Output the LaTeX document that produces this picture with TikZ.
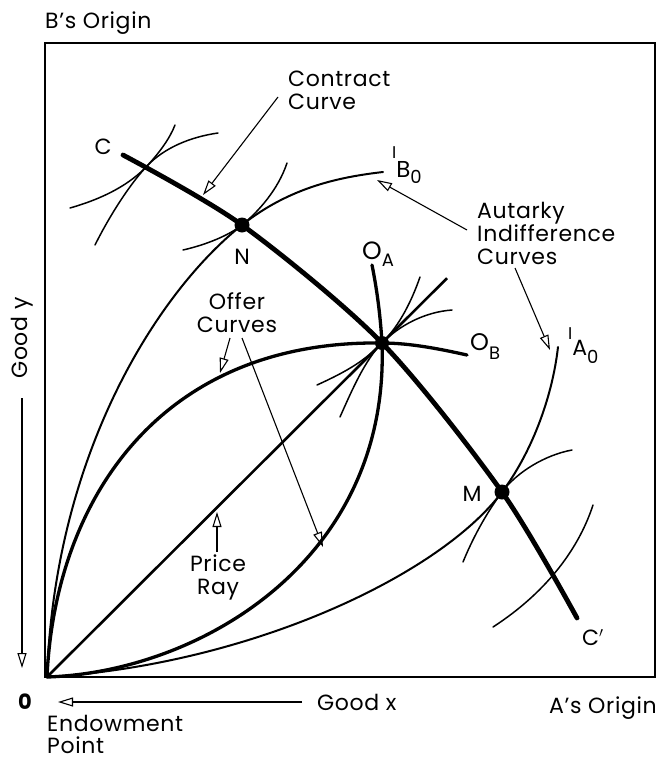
\documentclass[tikz,border=0pt]{standalone}
\usepackage{fontspec}
\setmainfont{Poppins}
\usetikzlibrary{arrows.meta,calc}
\begin{document}
\begin{tikzpicture}[x=1pt,y=-1pt,
  lbl/.style={font=\fontsize{22}{23}\selectfont\addfontfeatures{LetterSpace=3}, inner sep=0pt},
  ptlbl/.style={font=\fontsize{22}{22}\selectfont, inner sep=0pt},
  contract/.style={line width=4.8pt, line cap=round},
  offer/.style={line width=3.3pt, line cap=round},
  autarky/.style={line width=2pt, line cap=round},
  tangent/.style={line width=1.5pt, line cap=round},
  ray/.style={line width=2.6pt},
  pointer/.style={line width=1.1pt, -{Triangle[open, length=15pt, width=9pt, line width=1.1pt]}},
  dot/.style={circle, fill, inner sep=0pt, minimum size=15pt},
]
\useasboundingbox (0,0) rectangle (658,763);

% key points
\coordinate (O) at (47,677);
\coordinate (E) at (382,343);
\coordinate (N) at (242,225);
\coordinate (M) at (502,492);
\coordinate (K) at (147,166);

% box
\draw[line width=1.5pt] (45,43) rectangle (655,677);

% autarky indifference curves
\draw[autarky] (O) .. controls (55,450) and (160,290) .. (N) .. controls (290,187) and (340,177) .. (383,172);
\draw[autarky] (O) .. controls (250,665) and (440,575) .. (M) .. controls (530,455) and (552,400) .. (558,347);

% offer curves
\draw[offer] (O) .. controls (55,500) and (160,340) .. (E) .. controls (410,343) and (440,349) .. (467,355);
\draw[offer] (O) .. controls (200,672) and (390,560) .. (E) .. controls (380,310) and (376,285) .. (372,265);

% price ray
\draw[ray] (O) -- ($(O)!1.194!(E)$);

% tangent indifference curves
\draw[tangent] (70,208) .. controls (105,198) and (130,184) .. (K) .. controls (160,152) and (170,138) .. (175,125);
\draw[tangent] (95,245) .. controls (110,215) and (130,184) .. (K) .. controls (164,148) and (190,137) .. (218,133);
\draw[tangent] (183,250) .. controls (205,245) and (228,236) .. (N) .. controls (258,212) and (278,190) .. (287,163);
\draw[tangent] (317,385) .. controls (350,370) and (365,360) .. (E) .. controls (400,325) and (412,300) .. (420,277);
\draw[tangent] (340,417) .. controls (352,390) and (365,360) .. (E) .. controls (400,325) and (425,312) .. (452,310);
\draw[tangent] (463,562) .. controls (472,540) and (485,515) .. (M) .. controls (517,472) and (545,455) .. (572,450);
\draw[tangent] (593,505) .. controls (580,545) and (550,590) .. (493,627);

% contract curve
\draw[contract] plot[smooth] coordinates {(123,155) (N) (E) (M) (577,618)};

% points
\node[dot] (dN) at (N) {};
\node[dot, minimum size=14pt] (dE) at (E) {};
\node[dot] (dM) at (M) {};

% point labels
\node[ptlbl] (lC) at (103,147) {C};
\node[ptlbl] (lN) at (242,257) {N};
\node[ptlbl] (lM) at (472,494) {M};
\node[ptlbl, anchor=base west] (lCp) at (582,645) {C$'$};
\node[ptlbl, anchor=base west, font=\fontsize{25}{25}\selectfont] (lOA) at (362,259) {O\raisebox{-7pt}{\fontsize{18}{18}\selectfont A}};
\node[ptlbl, anchor=base west, font=\fontsize{24}{24}\selectfont] (lOB) at (470,350) {O\raisebox{-9pt}{\fontsize{18}{18}\selectfont B}};
\node[ptlbl, anchor=base west, font=\fontsize{23}{23}\selectfont] (lIB) at (392,177) {\raisebox{19pt}{\fontsize{17}{17}\selectfont I}B\raisebox{-6pt}{\fontsize{18}{18}\selectfont 0}};
\node[ptlbl, anchor=base west, font=\fontsize{22}{22}\selectfont] (lIA) at (568,355) {\raisebox{16pt}{\fontsize{17}{17}\selectfont I}A\raisebox{-8pt}{\fontsize{18}{18}\selectfont 0}};

% text labels
\node[lbl, anchor=base west] (bo) at (45,28) {B’s Origin};
\node[lbl, anchor=base east] (ao) at (657,713) {A’s Origin};
\node[lbl, align=left, anchor=north west] (cc) at (288,71) {Contract\\Curve};
\node[lbl, align=left, anchor=north west] (aic) at (477,202) {Autarky\\Indifference\\Curves};
\node[lbl, align=center, anchor=north] (oc) at (237,292) {Offer\\Curves};
\node[lbl, align=center, anchor=north] (pr) at (218,555) {Price\\Ray};
\node[lbl, align=left, anchor=base west] (ep) at (47,731) {Endowment};
\node[lbl, align=left, anchor=base west] (ep2) at (47,753) {Point};
\node[lbl, anchor=base west] (gx) at (317,710) {Good x};
\node[lbl, rotate=90] (gy) at (22,338) {Good y};
\node[ptlbl, font=\fontsize{21}{21}\selectfont\bfseries] (zero) at (25,702) {0};

% pointer arrows
\coordinate (ccS) at (278,97);   \coordinate (ccT) at (203,195);
\coordinate (aS1) at (467,230);  \coordinate (aT1) at (377,180);
\coordinate (aS2) at (515,268);  \coordinate (aT2) at (550,350);
\coordinate (oS1) at (230,338);  \coordinate (oT1) at (220,373);
\coordinate (oS2) at (242,338);  \coordinate (oT2) at (323,547);
\coordinate (pS) at (217,552);   \coordinate (pT) at (217,512);
\coordinate (gyS) at (22,398);   \coordinate (gyT) at (22,668);
\coordinate (gxS) at (302,702);  \coordinate (gxT) at (58,702);
\draw[pointer] (ccS) -- (ccT);
\draw[pointer] (aS1) -- (aT1);
\draw[pointer] (aS2) -- (aT2);
\draw[pointer] (oS1) -- (oT1);
\draw[pointer] (oS2) -- (oT2);
\draw[pointer] (pS) -- (pT);
\draw[pointer] (gyS) -- (gyT);
\draw[pointer] (gxS) -- (gxT);
\end{tikzpicture}
\end{document}
